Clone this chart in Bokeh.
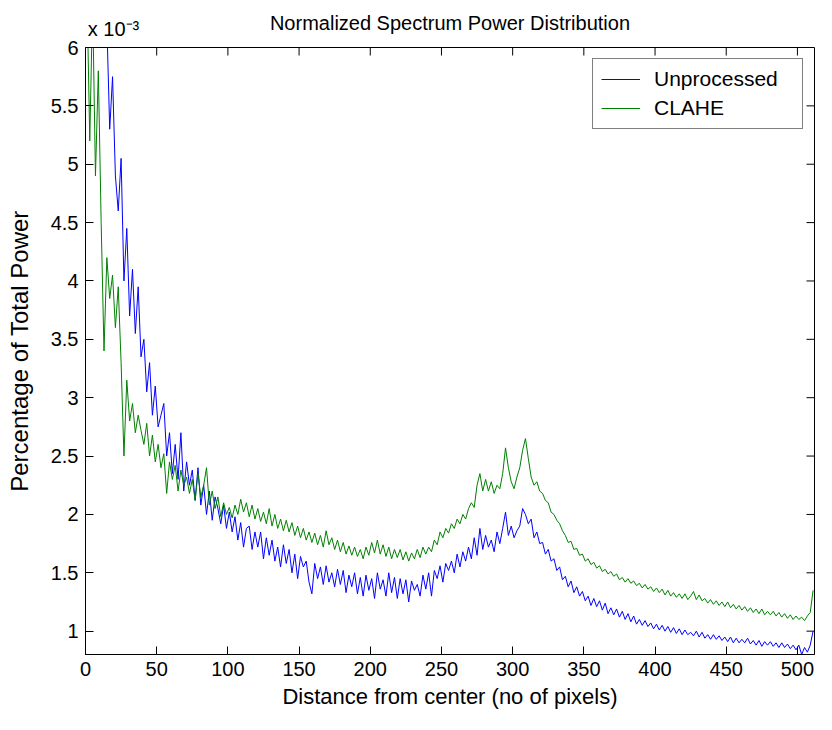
import math
from bokeh.plotting import figure
from bokeh.models import FixedTicker, NumeralTickFormatter, LinearAxis, CustomJSTickFormatter
from bokeh.embed import file_html
from bokeh.resources import INLINE

# distance from centre (pixels), sampled every 2 pixels
distance = list(range(1, 512, 2))

# power fraction, in units of 1e-3
unprocessed = [
    9.5, 9.0, 8.5, 8.0, 7.4, 6.9, 6.5, 6.2, 5.3, 5.75,
    4.9, 4.6, 5.05, 4.0, 4.45, 3.7, 4.1, 3.55, 3.95, 3.35,
    3.5, 3.05, 3.3, 2.85, 3.1, 2.75, 2.85, 2.95, 2.5, 2.7,
    2.35, 2.6, 2.3, 2.7, 2.2, 2.45, 2.25, 2.38, 2.12, 2.4,
    2.08, 2.25, 2.0, 2.2, 1.95, 2.15, 2.05, 1.92, 2.08, 1.88,
    2.02, 1.85, 1.98, 1.78, 1.93, 1.72, 1.88, 1.9, 1.7, 1.85,
    1.72, 1.85, 1.62, 1.8, 1.65, 1.78, 1.6, 1.72, 1.55, 1.74,
    1.58, 1.7, 1.5, 1.66, 1.45, 1.64, 1.55, 1.6, 1.42, 1.32,
    1.58, 1.45, 1.55, 1.4, 1.56, 1.42, 1.5, 1.38, 1.53, 1.4,
    1.52, 1.33, 1.48, 1.38, 1.5, 1.32, 1.46, 1.3, 1.48, 1.35,
    1.45, 1.28, 1.5, 1.36, 1.44, 1.3, 1.5, 1.33, 1.46, 1.28,
    1.45, 1.32, 1.44, 1.25, 1.43, 1.35, 1.4, 1.3, 1.48, 1.36,
    1.5, 1.3, 1.52, 1.45, 1.56, 1.42, 1.58, 1.52, 1.6, 1.5,
    1.66, 1.55, 1.68, 1.6, 1.72, 1.62, 1.8, 1.65, 1.88, 1.7,
    1.82, 1.72, 1.78, 1.68, 1.85, 1.75, 1.88, 2.02, 1.82, 1.9,
    1.8, 1.86, 1.9, 2.05, 2.0, 1.92, 1.96, 1.8, 1.85, 1.75,
    1.76, 1.66, 1.7, 1.6, 1.62, 1.52, 1.55, 1.44, 1.47, 1.38,
    1.43, 1.33, 1.38, 1.3, 1.34, 1.26, 1.3, 1.22, 1.28, 1.21,
    1.26, 1.18, 1.24, 1.15, 1.2, 1.14, 1.19, 1.12, 1.17, 1.1,
    1.15, 1.08, 1.13, 1.06, 1.1, 1.05, 1.09, 1.04, 1.07, 1.02,
    1.06, 1.01, 1.05, 1.0, 1.04, 0.99, 1.03, 0.98, 1.02, 0.97,
    1.01, 0.97, 0.99, 0.96, 1.0, 0.95, 0.99, 0.94, 0.97, 0.93,
    0.97, 0.93, 0.96, 0.92, 0.95, 0.91, 0.95, 0.9, 0.94, 0.9,
    0.93, 0.9, 0.94, 0.89, 0.92, 0.88, 0.92, 0.87, 0.91, 0.88,
    0.91, 0.87, 0.9, 0.86, 0.9, 0.86, 0.89, 0.85, 0.88, 0.84,
    0.88, 0.8, 0.86, 0.82, 0.88, 1.0,
]

clahe = [
    6.5, 5.2, 6.4, 4.9, 5.8, 4.5, 3.4, 4.2, 3.85, 4.05,
    3.6, 3.95, 3.3, 2.5, 3.15, 2.8, 2.95, 2.7, 2.85, 2.72,
    2.6, 2.78, 2.5, 2.68, 2.45, 2.6, 2.4, 2.52, 2.18, 2.45,
    2.3, 2.42, 2.2, 2.38, 2.25, 2.32, 2.18, 2.3, 2.12, 2.35,
    2.15, 2.25, 2.4, 2.08, 2.2, 2.05, 2.15, 1.98, 2.1, 2.0,
    2.06, 1.97, 2.08, 2.0, 2.13, 2.02, 2.1, 1.98, 2.08, 1.96,
    2.05, 1.94, 2.02, 1.92, 2.05, 1.9, 2.0, 1.88, 1.96, 1.86,
    1.95, 1.85, 1.93, 1.82, 1.9, 1.8, 1.88, 1.78, 1.85, 1.76,
    1.84, 1.74, 1.82, 1.72, 1.86, 1.74, 1.8, 1.7, 1.78, 1.68,
    1.76, 1.66, 1.73, 1.65, 1.72, 1.64, 1.7, 1.62, 1.72, 1.65,
    1.76, 1.67, 1.78, 1.66, 1.74, 1.64, 1.72, 1.62, 1.7, 1.63,
    1.7, 1.61, 1.68, 1.6, 1.67, 1.62, 1.7, 1.63, 1.72, 1.66,
    1.72, 1.68, 1.78, 1.74, 1.85, 1.8, 1.88, 1.84, 1.92, 1.88,
    1.96, 1.92, 2.0, 1.96, 2.05, 2.1, 2.06, 2.25, 2.35, 2.2,
    2.3, 2.2, 2.28, 2.18, 2.25, 2.22, 2.35, 2.57, 2.4, 2.28,
    2.22, 2.32, 2.4, 2.55, 2.65, 2.48, 2.32, 2.25, 2.28, 2.2,
    2.18, 2.12, 2.1, 2.02, 2.0, 1.95, 1.92, 1.86, 1.82, 1.76,
    1.77, 1.7, 1.71, 1.65, 1.66, 1.6, 1.62, 1.57, 1.59, 1.54,
    1.56, 1.51, 1.53, 1.49, 1.51, 1.47, 1.49, 1.44, 1.46, 1.42,
    1.45, 1.41, 1.43, 1.39, 1.41, 1.37, 1.4, 1.36, 1.38, 1.34,
    1.37, 1.33, 1.36, 1.31, 1.35, 1.3, 1.33, 1.29, 1.32, 1.28,
    1.32, 1.27, 1.3, 1.34, 1.27, 1.31, 1.26, 1.28, 1.24, 1.27,
    1.23, 1.26, 1.22, 1.25, 1.21, 1.25, 1.2, 1.23, 1.19, 1.22,
    1.18, 1.21, 1.17, 1.2, 1.16, 1.19, 1.15, 1.19, 1.14, 1.17,
    1.14, 1.17, 1.13, 1.16, 1.12, 1.15, 1.11, 1.14, 1.1, 1.13,
    1.1, 1.12, 1.09, 1.13, 1.16, 1.35,
]

x_ticks = [0, 50, 100, 150, 200, 250, 300, 350, 400, 450, 500]
y_ticks = [1, 1.5, 2, 2.5, 3, 3.5, 4, 4.5, 5, 5.5, 6]
x_lim = (0, 512)
y_lim = (0.8, 6)
exponent_text = "x 10\u207b\u00b3"
title_text = "Normalized Spectrum Power Distribution"

n = min(len(distance), len(unprocessed), len(clahe))
distance, unprocessed, clahe = distance[:n], unprocessed[:n], clahe[:n]

FONT = "Liberation Sans"
TICK_FS = "20px"
XLABEL_FS = "22px"
YLABEL_FS = "24px"
LEG_FS = "21px"
TITLE_FS = "20px"

p = figure(width=816, height=714, x_range=x_lim, y_range=y_lim,
           output_backend="svg", toolbar_location=None, title=None,
           min_border_left=85, min_border_right=2,
           min_border_top=47, min_border_bottom=60)

p.background_fill_color = "white"
p.border_fill_color = "white"
p.outline_line_color = "black"
p.outline_line_width = 1
p.xgrid.visible = False
p.ygrid.visible = False

p.line(distance, unprocessed, color="#0000ff", line_width=1, legend_label="Unprocessed")
p.line(distance, clahe, color="#008000", line_width=1, legend_label="CLAHE")

# mirrored inward ticks on the top and right edges of the box
p.ray(x=x_ticks, y=[y_lim[1]] * len(x_ticks), length=8, length_units="screen",
      angle=-math.pi / 2, color="black", line_width=1)
p.ray(x=[x_lim[1]] * len(y_ticks), y=y_ticks, length=8, length_units="screen",
      angle=math.pi, color="black", line_width=1)

def style_axis(ax, ticks):
    ax.ticker = FixedTicker(ticks=ticks)
    ax.major_tick_in = 8
    ax.major_tick_out = 0
    ax.minor_tick_in = 0
    ax.minor_tick_out = 0
    ax.axis_line_color = "black"
    ax.major_tick_line_color = "black"
    ax.major_label_text_color = "black"
    ax.major_label_text_font = FONT
    ax.major_label_text_font_size = TICK_FS
    ax.axis_label_text_font = FONT
    ax.axis_label_text_font_style = "normal"
    ax.axis_label_text_color = "black"
    ax.formatter = NumeralTickFormatter(format="0.[0]")

xa = p.xaxis[0]
ya = p.yaxis[0]
style_axis(xa, x_ticks)
style_axis(ya, y_ticks)
xa.axis_label = "Distance from center (no of pixels)"
ya.axis_label = "Percentage of Total Power"
xa.axis_label_text_font_size = XLABEL_FS
ya.axis_label_text_font_size = YLABEL_FS
xa.major_label_standoff = 7
xa.axis_label_standoff = 5
ya.major_label_standoff = 7
ya.axis_label_standoff = 15

# top band: exponent of the y values (as a label near the left edge) and the title
top = LinearAxis(ticker=FixedTicker(ticks=[19.7]),
                 formatter=CustomJSTickFormatter(code="return '%s'" % exponent_text))
top.axis_line_color = None
top.major_tick_line_color = None
top.major_tick_in = 0
top.major_tick_out = 0
top.minor_tick_line_color = None
top.major_label_standoff = 8
top.major_label_text_font = FONT
top.major_label_text_font_size = TICK_FS
top.major_label_text_color = "black"
top.axis_label = title_text
top.axis_label_text_font = FONT
top.axis_label_text_font_size = TITLE_FS
top.axis_label_text_font_style = "normal"
top.axis_label_text_color = "black"
top.axis_label_standoff = -19
p.add_layout(top, "above")

leg = p.legend[0]
leg.location = "top_right"
leg.margin = 11
leg.border_line_color = "black"
leg.border_line_width = 1
leg.background_fill_color = "white"
leg.background_fill_alpha = 1
leg.label_text_font = FONT
leg.label_text_font_size = LEG_FS
leg.label_text_color = "black"
leg.glyph_width = 39
leg.label_standoff = 14
leg.padding = 8
leg.spacing = 5
leg.label_width = 140
leg.label_height = 24
leg.glyph_height = 24

open("out.html", "w").write(file_html(p, INLINE))
